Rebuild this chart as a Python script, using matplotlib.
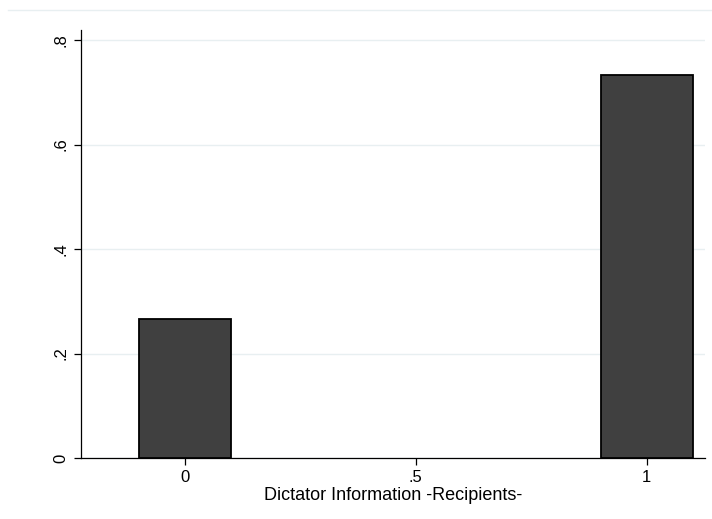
import matplotlib
matplotlib.use("Agg")
import matplotlib.pyplot as plt
from matplotlib.lines import Line2D

# Share of dictators by information status of recipients
categories = [0, 1]
fractions = [0.2667, 0.7333]
bar_width = 0.2
y_ticks = [0, 0.2, 0.4, 0.6, 0.8]
y_tick_labels = ["0", ".2", ".4", ".6", ".8"]
x_ticks = [0, 0.5, 1]
x_tick_labels = ["0", ".5", "1"]
x_title = "Dictator Information -Recipients-"

plt.rcParams["font.family"] = ["Liberation Sans", "DejaVu Sans"]
plt.rcParams["font.size"] = 12

W, H = 712, 519
fig = plt.figure(figsize=(W / 100, H / 100), dpi=100)
ax = fig.add_axes([81 / W, 1 - 458 / H, (705 - 81) / W, (458 - 30) / H])

ax.bar(categories, fractions, width=bar_width, color="#404040",
       edgecolor="black", linewidth=1.3, zorder=3)

ax.set_xlim(-0.225, 1.126)
ax.set_ylim(0, 0.8192)
ax.set_yticks(y_ticks)
ax.set_yticklabels(y_tick_labels, rotation=90, va="center")
ax.set_xticks(x_ticks)
ax.set_xticklabels(x_tick_labels)
ax.set_xlabel(x_title, fontsize=13, labelpad=1)

ax.grid(axis="y", color="#e8eff1", linewidth=1.0, zorder=0)
ax.tick_params(axis="both", direction="out", length=5, width=0.9, color="black", pad=4)
for side in ("top", "right"):
    ax.spines[side].set_visible(False)
for side in ("left", "bottom"):
    ax.spines[side].set_linewidth(0.9)
    ax.spines[side].set_color("black")

# faint outer border line along the top of the graph region
fig.add_artist(Line2D([8 / W, 1.0], [1 - 10 / H, 1 - 10 / H],
                      transform=fig.transFigure, color="#e8eff1", linewidth=1.0))

fig.savefig("out.png", dpi=100)
